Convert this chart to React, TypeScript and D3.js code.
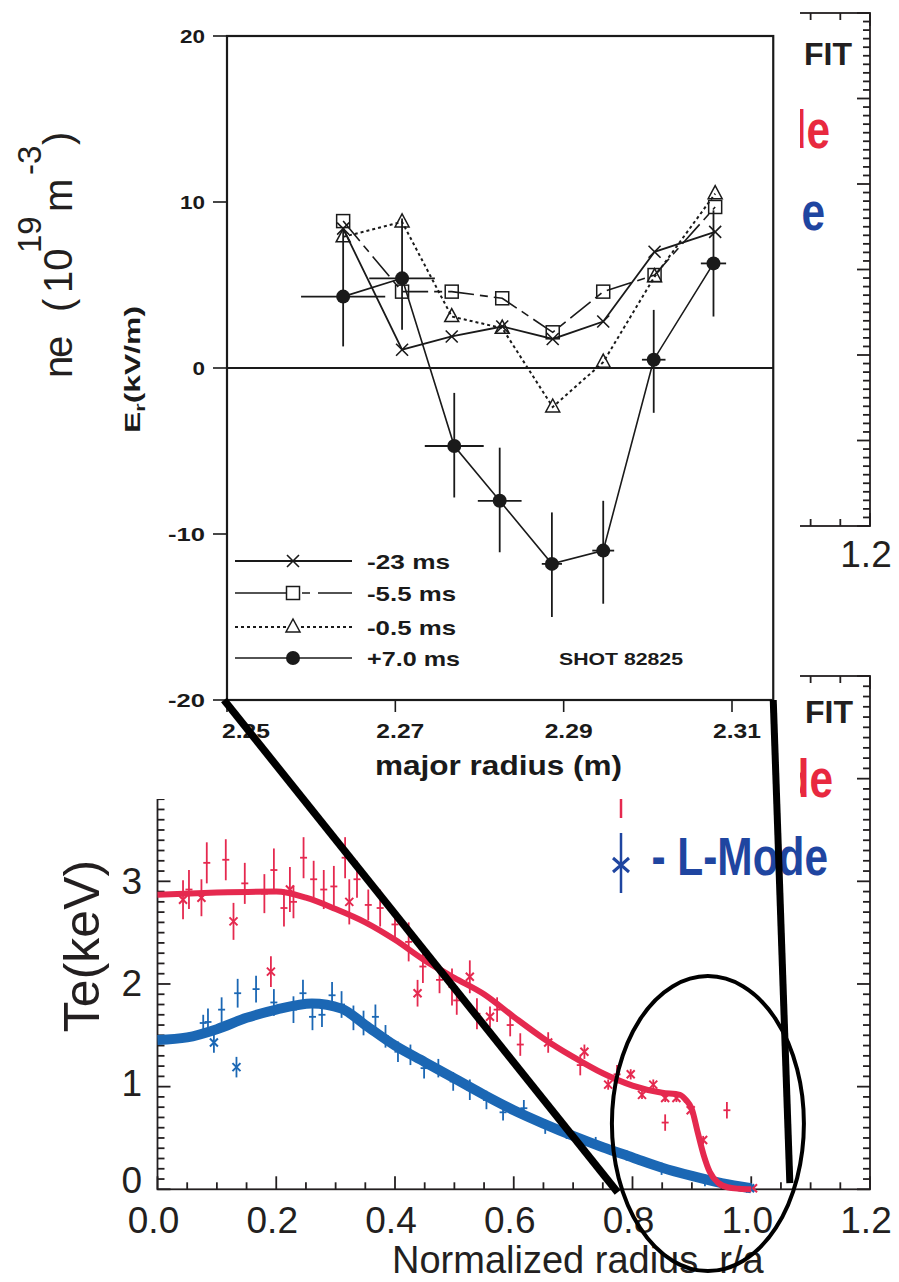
import React from "react";
import * as d3 from "d3";

// ---------- Er inset: radial electric field vs major radius ----------
const erRadius = [2.2638, 2.2708, 2.2767, 2.2827, 2.2887, 2.2947, 2.3008, 2.308];
const erMinus23 = [8.4, 1.1, 1.9, 2.5, 1.75, 2.8, 7.0, 8.2];
const erMinus55 = [8.85, 4.6, 4.6, 4.2, 2.15, 4.6, 5.6, 9.7];
const erMinus05 = [7.9, 8.8, 3.1, 2.4, -2.35, 0.35, 5.5, 10.5];
const erPlus7Radius = [2.2638, 2.2708, 2.277, 2.2824, 2.2886, 2.2947, 2.3007, 2.3078];
const erPlus7 = [4.3, 5.4, -4.7, -8.0, -11.8, -11.0, 0.5, 6.3];
const erPlus7High = [8.4, 9.0, -1.5, -4.8, -8.7, -8.0, 3.5, 9.5];
const erPlus7Low = [1.3, 2.3, -7.8, -11.1, -15.0, -14.2, -2.7, 3.1];
const erPlus7XErr = [0.005, 0.0039, 0.0035, 0.0026, 0.0012, 0.0013, 0.0014, 0.0015];
const erXTicks = [2.25, 2.27, 2.29, 2.31];
const erYTicks = [-20, -10, 0, 10, 20];
const erLegendLabels = ["-23 ms", "-5.5 ms", "-0.5 ms", "+7.0 ms"];

// ---------- Te vs normalized radius ----------
const hModeR = [0.043, 0.053, 0.074, 0.083, 0.115, 0.128, 0.147, 0.18, 0.191, 0.196, 0.213, 0.223, 0.229, 0.246, 0.263, 0.28, 0.297, 0.316, 0.323, 0.336, 0.355, 0.375, 0.4, 0.423, 0.438, 0.447, 0.475, 0.496, 0.504, 0.526, 0.538, 0.56, 0.572, 0.594, 0.611, 0.658, 0.712, 0.719, 0.759, 0.774, 0.797, 0.816, 0.835, 0.855, 0.855, 0.874, 0.898, 0.919, 0.959, 1.003];
const hModeTe = [2.82, 2.92, 2.84, 3.18, 3.21, 2.61, 2.98, 2.88, 2.12, 3.11, 2.74, 2.92, 2.8, 3.23, 3.02, 2.92, 2.95, 3.23, 2.8, 3.02, 2.77, 2.74, 2.58, 2.41, 1.91, 2.17, 2.04, 1.97, 1.84, 2.07, 1.71, 1.68, 1.75, 1.6, 1.41, 1.43, 1.21, 1.34, 1.02, 1.12, 1.12, 0.92, 1.02, 0.65, 0.89, 0.89, 0.77, 0.48, 0.77, 0.01];
const hModeErr = [0.19, 0.19, 0.18, 0.2, 0.2, 0.18, 0.2, 0.19, 0.15, 0.21, 0.18, 0.22, 0.16, 0.2, 0.18, 0.19, 0.2, 0.2, 0.22, 0.18, 0.15, 0.18, 0.15, 0.19, 0.13, 0.16, 0.13, 0.18, 0.14, 0.16, 0.15, 0.1, 0.12, 0.11, 0.11, 0.1, 0.1, 0.07, 0.05, 0.09, 0.05, 0.04, 0.05, 0.08, 0.04, 0.04, 0.04, 0.04, 0.08, 0.03];
const hModeStar = [1, 0, 1, 0, 0, 1, 0, 0, 1, 0, 0, 1, 0, 0, 0, 0, 0, 0, 1, 0, 0, 0, 0, 0, 1, 0, 0, 0, 0, 1, 0, 1, 0, 0, 0, 1, 0, 1, 1, 0, 1, 1, 1, 0, 1, 1, 1, 1, 0, 1];

const lModeR = [0.077, 0.085, 0.095, 0.108, 0.133, 0.135, 0.166, 0.196, 0.229, 0.245, 0.261, 0.277, 0.294, 0.31, 0.33, 0.347, 0.367, 0.384, 0.405, 0.426, 0.449, 0.473, 0.498, 0.526, 0.554, 0.582, 0.617, 0.653, 0.689, 0.738, 0.79, 0.849, 0.922, 0.998];
const lModeTe = [1.62, 1.63, 1.43, 1.75, 1.19, 1.91, 1.95, 1.82, 1.75, 1.91, 1.68, 1.7, 1.89, 1.8, 1.67, 1.62, 1.68, 1.49, 1.34, 1.31, 1.18, 1.18, 1.05, 0.97, 0.87, 0.75, 0.79, 0.61, 0.55, 0.46, 0.33, 0.2, 0.07, 0.01];
const lModeErr = [0.08, 0.13, 0.1, 0.12, 0.1, 0.14, 0.13, 0.13, 0.13, 0.13, 0.13, 0.12, 0.13, 0.13, 0.12, 0.12, 0.12, 0.11, 0.1, 0.1, 0.1, 0.09, 0.09, 0.1, 0.09, 0.08, 0.08, 0.07, 0.06, 0.05, 0.05, 0.06, 0.04, 0.03];
const lModeStar = [0, 0, 1, 0, 1, 0, 0, 0, 0, 0, 0, 0, 0, 0, 0, 0, 0, 0, 0, 0, 0, 0, 0, 0, 0, 0, 0, 0, 0, 0, 0, 0, 0, 1];

const hFitR = [0, 0.1, 0.2, 0.25, 0.3, 0.35, 0.4, 0.45, 0.5, 0.55, 0.6, 0.65, 0.7, 0.75, 0.8, 0.85, 0.88, 0.89, 0.9, 0.91, 0.92, 0.93, 0.945, 0.96, 0.98, 1.0];
const hFitTe = [2.87, 2.89, 2.9, 2.84, 2.73, 2.6, 2.43, 2.23, 2.06, 1.9, 1.68, 1.47, 1.29, 1.13, 1.01, 0.94, 0.92, 0.87, 0.78, 0.55, 0.33, 0.17, 0.06, 0.02, 0.005, 0.0];
const lFitR = [0, 0.05, 0.1, 0.15, 0.2, 0.26, 0.31, 0.35, 0.4, 0.45, 0.5, 0.55, 0.6, 0.65, 0.7, 0.75, 0.8, 0.85, 0.9, 0.95, 1.0];
const lFitTe = [1.455, 1.48, 1.56, 1.67, 1.75, 1.81, 1.76, 1.6, 1.4, 1.24, 1.08, 0.92, 0.77, 0.64, 0.52, 0.41, 0.31, 0.21, 0.13, 0.06, 0.01];

const teXLabels = [0, 0.2, 0.4, 0.6, 0.8, 1.0, 1.2];
const teYLabels = [0, 1, 2, 3];
const neXLabels = [1.2];

const FONT = "'Liberation Sans', Arial, Helvetica, sans-serif";
const RED = "#e5294f";
const BLUE = "#1b67b4";
const LEG_RED = "#e8293f";
const LEG_BLUE = "#1f45a0";
const INK = "#231f20";
const SCAN = "#1a1a1a";

export default function App() {
  const W = 899;
  const H = 1282;
  const xT = d3.scaleLinear().domain([0, 1.2]).range([157.5, 870]);
  const yT = d3.scaleLinear().domain([0, 5]).range([1189.3, 676]);
  const yN = d3.scaleLinear().domain([0, 6]).range([526, 13]);
  const xE = d3.scaleLinear().domain([2.25, 2.31]).range([227, 732]);
  const yE = d3.scaleLinear().domain([-20, 20]).range([700, 36]);
  const erRightR = 2.3149;

  const isMul = (v: number, s: number) => Math.abs(v / s - Math.round(v / s)) < 1e-6;
  const xMinor = d3.range(0, 1.2001, 0.05);
  const teMinor = d3.range(0, 5.0001, 0.1);
  const neMinor = d3.range(0, 6.0001, 0.1);

  const fitLine = d3
    .line<[number, number]>()
    .x((d) => xT(d[0]))
    .y((d) => yT(d[1]))
    .curve(d3.curveMonotoneX);
  const erLine = d3
    .line<[number, number]>()
    .x((d) => xE(d[0]))
    .y((d) => yE(d[1]));

  const zip = (a: number[], b: number[]) => a.map((v, i) => [v, b[i]] as [number, number]);

  // frame with inward ticks (for the two background charts)
  const frame = (yS: d3.ScaleLinear<number, number>, yMinor: number[], key: string) => {
    const [x0, x1] = xT.range();
    const [yb, yt] = yS.range();
    return (
      <g key={key} stroke={INK} strokeWidth={1.8} fill="none">
        <rect x={x0} y={yt} width={x1 - x0} height={yb - yt} />
        {xMinor.map((v, i) => {
          const len = isMul(v, 0.2) ? 13 : 7;
          return (
            <g key={i}>
              <line x1={xT(v)} x2={xT(v)} y1={yb} y2={yb - len} />
              <line x1={xT(v)} x2={xT(v)} y1={yt} y2={yt + len} />
            </g>
          );
        })}
        {yMinor.map((v, i) => {
          const len = isMul(v, 1) ? 13 : 7;
          return (
            <g key={i}>
              <line x1={x0} x2={x0 + len} y1={yS(v)} y2={yS(v)} />
              <line x1={x1} x2={x1 - len} y1={yS(v)} y2={yS(v)} />
            </g>
          );
        })}
      </g>
    );
  };

  const modeLegend = (text: string, color: string, xEnd: number, baseline: number, key: string) => (
    <text
      key={key}
      transform={`translate(${xEnd},${baseline}) scale(0.8,1)`}
      textAnchor="end"
      fontFamily={FONT}
      fontWeight="bold"
      fontSize={53}
      fill={color}
    >
      {text}
    </text>
  );

  const dataPoints = (rs: number[], tes: number[], errs: number[], stars: number[], color: string, key: string) => (
    <g key={key} stroke={color} strokeWidth={1.8} fill="none">
      {rs.map((r, i) => {
        const cx = xT(r);
        const cy = yT(tes[i]);
        return (
          <g key={i}>
            <line x1={cx} x2={cx} y1={yT(tes[i] - errs[i])} y2={yT(tes[i] + errs[i])} />
            {stars[i] ? (
              <path d={`M${cx - 4},${cy - 4}L${cx + 4},${cy + 4}M${cx - 4},${cy + 4}L${cx + 4},${cy - 4}`} strokeWidth={2} />
            ) : (
              <line x1={cx - 3.5} x2={cx + 3.5} y1={cy} y2={cy} />
            )}
          </g>
        );
      })}
    </g>
  );

  // Er markers
  const cross = (x: number, y: number, k: string | number) => (
    <path key={k} d={`M${x - 6},${y - 6}L${x + 6},${y + 6}M${x - 6},${y + 6}L${x + 6},${y - 6}`} stroke={SCAN} strokeWidth={1.6} fill="none" />
  );
  const square = (x: number, y: number, k: string | number) => (
    <rect key={k} x={x - 6.5} y={y - 6.5} width={13} height={13} stroke={SCAN} strokeWidth={1.5} fill="none" />
  );
  const tri = (x: number, y: number, k: string | number) => (
    <path key={k} d={`M${x},${y - 8}L${x + 7},${y + 5}L${x - 7},${y + 5}Z`} stroke={SCAN} strokeWidth={1.5} fill="none" />
  );
  const dot = (x: number, y: number, k: string | number) => <circle key={k} cx={x} cy={y} r={7} fill={SCAN} />;

  const legendRows = [561, 593, 627, 658];
  const legendX0 = 235;
  const legendX1 = 352;
  const legendMX = 293;
  const teLabelLift = [9, 4, 1, 0];

  return (
    <svg width={W} height={H} style={{ position: "absolute", left: 0, top: 0, background: "#fff" }}>
      <rect x={0} y={0} width={W} height={H} fill="#fff" />

      {/* ===== background chart 1: density ===== */}
      {frame(yN, neMinor, "neframe")}
      {neXLabels.map((v, i) => (
        <text key={i} x={xT(v) - 4} y={567} textAnchor="middle" fontFamily={FONT} fontSize={37} fill={INK}>
          {d3.format(".1f")(v)}
        </text>
      ))}
      <g transform="translate(72,0) rotate(-90)" fontFamily={FONT} fill={INK}>
        <text x={-378} y={0} fontSize={40}>n</text>
        <text x={-358} y={0} fontSize={40}>e</text>
        <text x={-312} y={0} fontSize={40}>(</text>
        <text x={-293} y={0} fontSize={40}>10</text>
        <text x={-253} y={-31} fontSize={33}>19</text>
        <text x={-212} y={0} fontSize={40}>m</text>
        <text x={-175} y={-31} fontSize={33}>-3</text>
        <text x={-145} y={0} fontSize={40}>)</text>
      </g>
      <text x={804} y={65} fontFamily={FONT} fontWeight="bold" fontSize={32} fill={INK}>FIT</text>
      {modeLegend("- H-Mode", LEG_RED, 830, 148, "nh")}
      {modeLegend("- L-Mode", LEG_BLUE, 825, 230, "nl")}

      {/* ===== background chart 2: Te ===== */}
      {frame(yT, teMinor, "teframe")}
      {teXLabels.map((v, i) => (
        <text key={i} x={xT(v) - 4} y={1233} textAnchor="middle" fontFamily={FONT} fontSize={37} fill={INK}>
          {d3.format(".1f")(v)}
        </text>
      ))}
      {teYLabels.map((v, i) => (
        <text key={i} x={142} y={yT(v) + 13 - teLabelLift[i]} textAnchor="end" fontFamily={FONT} fontSize={37} fill={INK}>
          {v}
        </text>
      ))}
      <text transform="translate(99,946) rotate(-90)" textAnchor="middle" fontFamily={FONT} fontSize={50} fill={INK}>
        Te(keV)
      </text>
      <text x={392} y={1273} fontFamily={FONT} fontSize={38} fill={INK} xmlSpace="preserve" style={{ whiteSpace: "pre" }}>
        {"Normalized radius  r/a"}
      </text>

      {dataPoints(hModeR, hModeTe, hModeErr, hModeStar, RED, "hpts")}
      {dataPoints(lModeR, lModeTe, lModeErr, lModeStar, BLUE, "lpts")}
      <path d={fitLine(zip(lFitR, lFitTe)) || ""} stroke={BLUE} strokeWidth={10} fill="none" />
      <path d={fitLine(zip(hFitR, hFitTe)) || ""} stroke={RED} strokeWidth={6} fill="none" />

      <text x={805} y={723} fontFamily={FONT} fontWeight="bold" fontSize={32} fill={INK}>FIT</text>
      {modeLegend("- H-Mode", LEG_RED, 833, 797, "th")}
      <line x1={621} x2={621} y1={758} y2={818} stroke={RED} strokeWidth={2.5} />
      {modeLegend("- L-Mode", LEG_BLUE, 828, 875, "tl")}
      <g stroke={LEG_BLUE} fill="none">
        <line x1={621} x2={621} y1={833} y2={893} strokeWidth={2.5} />
        <path d="M613,858L629,872M613,872L629,858" strokeWidth={3} />
      </g>

      {/* ===== overlay: scanned Er figure ===== */}
      <rect x={150} y={0} width={650} height={799} fill="#fff" />
      <rect x={95} y={297} width={65} height={146} fill="#fff" />
      <g fontFamily={FONT} fill={SCAN}>
        <rect x={xE(2.25)} y={yE(20)} width={xE(erRightR) - xE(2.25)} height={yE(-20) - yE(20)} fill="none" stroke={SCAN} strokeWidth={2.2} />
        <line x1={xE(2.25)} x2={xE(erRightR)} y1={yE(0)} y2={yE(0)} stroke={SCAN} strokeWidth={2} />
        {erYTicks.map((v, i) => {
          const s = String(v);
          const w = s.replace("-", "").length * 12.5 + (v < 0 ? 12 : 0);
          return (
            <g key={i}>
              <line x1={xE(2.25) - 14} x2={xE(2.25)} y1={yE(v)} y2={yE(v)} stroke={SCAN} strokeWidth={1.6} />
              <text x={205} y={yE(v) + 7} textAnchor="end" fontWeight="bold" fontSize={19} textLength={w} lengthAdjust="spacingAndGlyphs">
                {s}
              </text>
            </g>
          );
        })}
        {erXTicks.map((v, i) => (
          <g key={i}>
            <line x1={xE(v)} x2={xE(v)} y1={yE(-20)} y2={yE(-20) + 12} stroke={SCAN} strokeWidth={1.6} />
            <text x={xE(v) + (i === 0 ? 19 : 5)} y={738} textAnchor="middle" fontWeight="bold" fontSize={21} textLength={48} lengthAdjust="spacingAndGlyphs">
              {d3.format(".2f")(v)}
            </text>
          </g>
        ))}
        <text x={375} y={775} fontWeight="bold" fontSize={27} textLength={247} lengthAdjust="spacingAndGlyphs">
          major radius (m)
        </text>
        <text transform="translate(140,433) rotate(-90)" fontWeight="bold" fontSize={22} textLength={127} lengthAdjust="spacingAndGlyphs">
          E<tspan fontSize={15} dy={5}>r</tspan>
          <tspan dy={-5}>(kV/m)</tspan>
        </text>

        {/* series lines */}
        <path d={erLine(zip(erRadius, erMinus23)) || ""} stroke={SCAN} strokeWidth={1.8} fill="none" />
        <path d={erLine(zip(erRadius, erMinus55)) || ""} stroke={SCAN} strokeWidth={1.6} fill="none" strokeDasharray="26 6 8 6" />
        <path d={erLine(zip(erRadius, erMinus05)) || ""} stroke={SCAN} strokeWidth={2} fill="none" strokeDasharray="3 3" />
        <path d={erLine(zip(erPlus7Radius, erPlus7)) || ""} stroke={SCAN} strokeWidth={1.6} fill="none" />
        {/* +7.0 ms error bars */}
        {erPlus7Radius.map((r, i) => (
          <g key={i} stroke={SCAN} strokeWidth={1.8}>
            <line x1={xE(r)} x2={xE(r)} y1={yE(erPlus7Low[i])} y2={yE(erPlus7High[i])} />
            <line x1={xE(r - erPlus7XErr[i])} x2={xE(r + erPlus7XErr[i])} y1={yE(erPlus7[i])} y2={yE(erPlus7[i])} />
          </g>
        ))}
        {erRadius.map((r, i) => square(xE(r), yE(erMinus55[i]), "s" + i))}
        {erRadius.map((r, i) => tri(xE(r), yE(erMinus05[i]), "t" + i))}
        {erRadius.map((r, i) => cross(xE(r), yE(erMinus23[i]), "c" + i))}
        {erPlus7Radius.map((r, i) => dot(xE(r), yE(erPlus7[i]), "d" + i))}

        {/* legend */}
        <line x1={legendX0} x2={legendX1} y1={legendRows[0]} y2={legendRows[0]} stroke={SCAN} strokeWidth={1.8} />
        {cross(legendMX, legendRows[0], "lc")}
        <line x1={legendX0} x2={legendMX - 7} y1={legendRows[1]} y2={legendRows[1]} stroke={SCAN} strokeWidth={1.6} />
        <line x1={legendMX + 9} x2={legendX1} y1={legendRows[1]} y2={legendRows[1]} stroke={SCAN} strokeWidth={1.6} strokeDasharray="8 8 40" />
        {square(legendMX, legendRows[1], "ls")}
        <line x1={legendX0} x2={legendX1} y1={legendRows[2]} y2={legendRows[2]} stroke={SCAN} strokeWidth={2} strokeDasharray="3 3" />
        <rect x={legendMX - 7} y={legendRows[2] - 9} width={14} height={16} fill="#fff" />
        {tri(legendMX, legendRows[2], "lt")}
        <line x1={legendX0} x2={legendX1} y1={legendRows[3]} y2={legendRows[3]} stroke={SCAN} strokeWidth={1.6} />
        {dot(legendMX, legendRows[3], "ld")}
        {erLegendLabels.map((t, i) => (
          <text key={i} x={367} y={legendRows[i] + 8} fontWeight="bold" fontSize={21} textLength={t.startsWith("-23") ? 83 : t.startsWith("+") ? 93 : 89} lengthAdjust="spacingAndGlyphs">
            {t}
          </text>
        ))}
        <text x={559} y={665} fontWeight="bold" fontSize={17} textLength={124} lengthAdjust="spacingAndGlyphs">
          SHOT 82825
        </text>
      </g>

      {/* ===== zoom annotation: lines and ellipse ===== */}
      <ellipse cx={xT(0.927)} cy={yT(0.64)} rx={96} ry={147.5} stroke="#000" strokeWidth={4} fill="none" />
      <line x1={xE(2.25) - 3} y1={yE(-20)} x2={xT(0.775)} y2={yT(-0.03)} stroke="#000" strokeWidth={7.5} />
      <line x1={xE(erRightR)} y1={yE(-20)} x2={xT(1.065)} y2={yT(0.06)} stroke="#000" strokeWidth={7} />
    </svg>
  );
}
